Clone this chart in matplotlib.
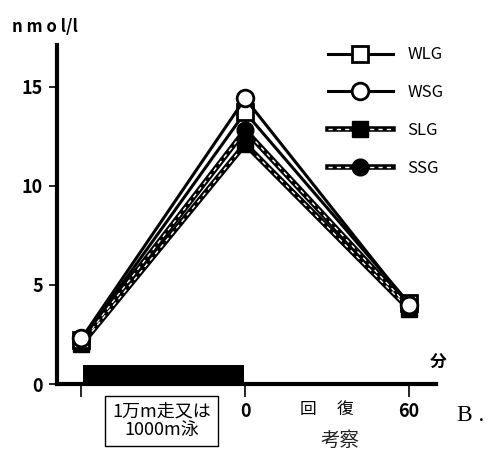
import matplotlib.pyplot as plt
from matplotlib.legend_handler import HandlerTuple
import numpy as np

plt.rcParams['font.family'] = ['Noto Sans CJK JP', 'DejaVu Sans']

# time points (min) and hormone levels (nmol/l)
t = [-60, 0, 60]
wlg = [2.2, 13.7, 4.1]
wsg = [2.3, 14.4, 4.0]
slg = [2.0, 12.1, 3.8]
ssg = [2.1, 12.8, 3.9]
series = ["WLG", "WSG", "SLG", "SSG"]
xticks = [-60, 0, 60]
xticklabels = ["", "0", "60"]
yticks = [0, 5, 10, 15]

fig = plt.figure(figsize=(4.91, 4.54), dpi=100)
ax = fig.add_axes([0.116, 0.154, 0.772, 0.747])

# exercise period bar
ax.bar(-30, 0.96, width=59, color="black", zorder=2)

ms = 12
# filled groups: thick line with white dashes, markers on top
handles = []
for y, m in [(slg, "s"), (ssg, "o")]:
    hb, = ax.plot(t, y, c="k", lw=4, zorder=3)
    hw, = ax.plot(t, y, c="white", lw=1, ls=(0, (3, 3)), zorder=3.1)
    hm, = ax.plot(t, y, ls="none", marker=m, ms=ms, mfc="k", mec="k", zorder=3.2)
    handles.append((hb, hw, hm))
# white-open groups
hs, = ax.plot(t, wlg, c="k", lw=2.2, marker="s", ms=ms, mfc="white", mec="k", mew=2, zorder=4)
hc, = ax.plot(t, wsg, c="k", lw=2.2, marker="o", ms=ms, mfc="white", mec="k", mew=2, zorder=4)
handles = [hs, hc] + handles
ax.legend(handles, series, loc="upper right", bbox_to_anchor=(1.06, 1.04), frameon=False,
          handlelength=3.9, labelspacing=1.25, fontsize=12, handletextpad=0.9,
          handler_map={tuple: HandlerTuple(ndivide=1, pad=0)})

ax.set_xlim(-69, 70)
ax.set_ylim(0, 17.1)
ax.spines["top"].set_visible(False)
ax.spines["right"].set_visible(False)
ax.spines["left"].set_linewidth(3)
ax.spines["bottom"].set_linewidth(3)
ax.spines["bottom"].set_zorder(5)
ax.set_yticks(yticks)
ax.set_yticklabels([str(v) for v in yticks], fontsize=13, fontweight="bold")
ax.set_xticks(xticks)
ax.set_xticklabels(xticklabels, fontsize=13, fontweight="bold")
ax.tick_params(axis="y", length=6, width=1.2, pad=4)
ax.tick_params(axis="x", length=9, width=1.2, pad=4)

fig.text(0.025, 0.93, "n m o l/l", fontsize=12, fontweight="bold")
fig.text(0.875, 0.19, "分", fontsize=12, fontweight="bold")
ax.text(30, -1.3, "回　 復", fontsize=12, ha="center", va="center")
fig.text(0.329, 0.073, "1万m走又は\n1000m泳", fontsize=13, ha="center", va="center",
         linespacing=1.0,
         bbox=dict(boxstyle="square,pad=0.4", fc="white", ec="k", lw=1))
fig.text(0.693, 0.03, "考察", fontsize=14, ha="center", va="center", color="#222222")
fig.text(0.93, 0.085, "B .", fontsize=17, ha="left", va="center", family=["Liberation Serif"])

fig.savefig("out.png", dpi=100)
